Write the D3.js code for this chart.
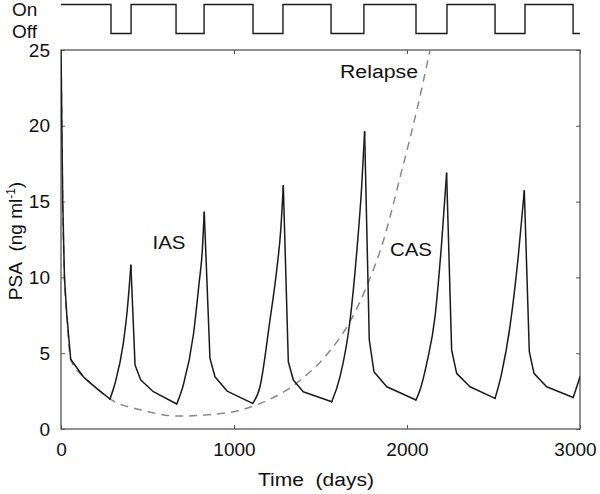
<!DOCTYPE html>
<html>
<head>
<meta charset="utf-8">
<script src="https://cdn.jsdelivr.net/npm/d3@7"></script>
<style>
  html, body { margin: 0; padding: 0; background: #fff; }
  svg { display: block; font-family: "Liberation Sans", Arial, sans-serif; }
</style>
</head>
<body>
<svg id="chart" width="600" height="494"></svg>
<script>
// ---- data ----
const psaDays = [0, 3, 10, 20, 33, 56, 129, 206, 283,
  312, 360, 383, 404,
  428, 461, 534, 669,
  707, 765, 798, 817, 828,
  861, 890, 960, 1108,
  1150, 1208, 1247, 1270, 1285,
  1314, 1343, 1400, 1565,
  1613, 1671, 1709, 1738, 1755,
  1782, 1809, 1883, 2052,
  2075, 2114, 2162, 2200, 2229,
  2258, 2287, 2364, 2509,
  2547, 2595, 2643, 2678,
  2707, 2734, 2807, 2961,
  3000];
const psaValues = [25, 22, 15, 10, 7.6, 4.6, 3.45, 2.68, 1.98,
  3.0, 5.65, 7.85, 10.8,
  4.22, 3.23, 2.46, 1.65,
  2.9, 6.2, 9.6, 11.8, 14.3,
  4.66, 3.45, 2.5, 1.69,
  2.79, 7.19, 10.5, 13.1, 16.05,
  4.44, 3.23, 2.46, 1.8,
  3.45, 7.19, 11.6, 16.0, 19.6,
  5.87, 3.78, 2.79, 1.91,
  2.57, 4.33, 7.41, 12.25, 16.87,
  5.21, 3.67, 2.79, 2.02,
  3.67, 6.75, 11.37, 15.72,
  5.1, 3.67, 2.79, 2.08,
  3.45];
const relapseDays = [0, 3, 10, 20, 33, 56, 129, 206, 283, 466, 678, 948, 1108, 1381, 1536, 1671, 1767, 1863, 1960, 2056, 2133, 2160];
const relapseValues = [25, 22, 15, 10, 7.6, 4.6, 3.45, 2.68, 1.98, 1.25, 0.85, 1.05, 1.5, 3.2, 4.9, 7.1, 9.4, 12.4, 16.6, 21.0, 25, 26.5];
const offStartDays = [289, 665, 1110, 1561, 2052, 2509, 2960];
const onStartDays = [405, 827, 1283, 1751, 2231, 2682];
const treatmentStates = ["On", "Off"];
const xTicks = [0, 1000, 2000, 3000];
const yTicks = [0, 5, 10, 15, 20, 25];

// ---- layout ----
const svg = d3.select("#chart");
const x = d3.scaleLinear().domain([0, 3000]).range([61, 580]);
const y = d3.scaleLinear().domain([0, 25]).range([429, 50]);
const ys = d3.scalePoint().domain(treatmentStates).range([4.5, 33.5]);

// clip
svg.append("clipPath").attr("id", "plotclip")
  .append("rect").attr("x", 61).attr("y", 50).attr("width", 519).attr("height", 379);

// axes
const xAxis = svg.append("g").attr("transform", "translate(0,429)")
  .call(d3.axisBottom(x).tickValues(xTicks).tickSize(-4).tickPadding(14).tickFormat(d3.format("d")));
const xAxisTop = svg.append("g").attr("transform", "translate(0,50)")
  .call(d3.axisTop(x).tickValues(xTicks).tickSize(-4).tickFormat(""));
const yAxis = svg.append("g").attr("transform", "translate(61,0)")
  .call(d3.axisLeft(y).tickValues(yTicks).tickSize(-4).tickPadding(11));
const yAxisRight = svg.append("g").attr("transform", "translate(580,0)")
  .call(d3.axisRight(y).tickValues(yTicks).tickSize(-4).tickFormat(""));
[xAxis, xAxisTop, yAxis, yAxisRight].forEach(g => {
  g.select(".domain").remove();
  g.selectAll(".tick line").attr("stroke", "#555").attr("stroke-width", 1);
  g.selectAll(".tick text").attr("fill", "#111").style("font-size", "19px")
    .style("font-family", "'Liberation Sans', Arial, sans-serif");
});
xAxis.selectAll(".tick text").filter(d => d === 3000).attr("x", -5);

// frame
svg.append("rect").attr("x", 61).attr("y", 50).attr("width", 519).attr("height", 379)
  .attr("fill", "none").attr("stroke", "#555").attr("stroke-width", 1.3);

// relapse dashed curve
const relapse = relapseDays.map((d, i) => [d, relapseValues[i]]);
svg.append("path").attr("clip-path", "url(#plotclip)")
  .attr("d", d3.line().x(d => x(d[0])).y(d => y(d[1])).curve(d3.curveMonotoneX)(relapse))
  .attr("fill", "none").attr("stroke", "#888").attr("stroke-width", 1.5)
  .attr("stroke-dasharray", "8,6");

// PSA line: rising stretches drawn smooth, falling stretches straight
const psa = psaDays.map((d, i) => [d, psaValues[i]]);
const pieces = [];
let cur = [psa[0]], rising = null;
for (let i = 1; i < psa.length; i++) {
  const r = psa[i][1] > psa[i - 1][1];
  if (rising === null || r === rising) { cur.push(psa[i]); rising = r; }
  else { pieces.push({ rising, pts: cur }); cur = [psa[i - 1], psa[i]]; rising = r; }
}
pieces.push({ rising, pts: cur });
const lineSmooth = d3.line().x(d => x(d[0])).y(d => y(d[1])).curve(d3.curveMonotoneX);
const lineStraight = d3.line().x(d => x(d[0])).y(d => y(d[1]));
svg.append("g").attr("clip-path", "url(#plotclip)")
  .selectAll("path").data(pieces).join("path")
  .attr("d", p => (p.rising ? lineSmooth : lineStraight)(p.pts))
  .attr("fill", "none").attr("stroke", "#1a1a1a").attr("stroke-width", 1.5)
  .attr("stroke-linejoin", "round").attr("stroke-linecap", "round");

// treatment on/off square wave
const steps = [[0, "On"]];
offStartDays.forEach((d, i) => {
  steps.push([d, "Off"]);
  if (i < onStartDays.length) steps.push([onStartDays[i], "On"]);
});
steps.push([3000, "Off"]);
svg.append("path")
  .attr("d", d3.line().x(d => x(d[0])).y(d => ys(d[1])).curve(d3.curveStepAfter)(steps))
  .attr("fill", "none").attr("stroke", "#1a1a1a").attr("stroke-width", 1.4);

// state labels
svg.append("text").attr("x", 12).attr("y", 16).attr("fill", "#111").style("font-size", "19px").text(treatmentStates[0]);
svg.append("text").attr("x", 12).attr("y", 38).attr("fill", "#111").style("font-size", "19px").text(treatmentStates[1]);

// annotations
function label(txt, cx, by, w) {
  svg.append("text").attr("x", cx).attr("y", by).attr("text-anchor", "middle")
    .attr("fill", "#111").style("font-size", "18px")
    .attr("textLength", w).attr("lengthAdjust", "spacingAndGlyphs").text(txt);
}
label("IAS", 169, 249, 33);
label("CAS", 411, 256, 42);
label("Relapse", 379, 78, 78);

// axis titles
svg.append("text").attr("x", 316).attr("y", 486).attr("text-anchor", "middle")
  .attr("fill", "#111").style("font-size", "19px")
  .attr("textLength", 116).attr("lengthAdjust", "spacingAndGlyphs")
  .text("Time\u00A0\u00A0(days)");

const yt = svg.append("text").attr("transform", "translate(22,241) rotate(-90)")
  .attr("text-anchor", "middle").attr("fill", "#111").style("font-size", "19px");
yt.append("tspan").text("PSA\u00A0\u00A0(ng ml");
yt.append("tspan").attr("dy", -7).style("font-size", "12px").text("-1");
yt.append("tspan").attr("dy", 7).text(")");
</script>
</body>
</html>
